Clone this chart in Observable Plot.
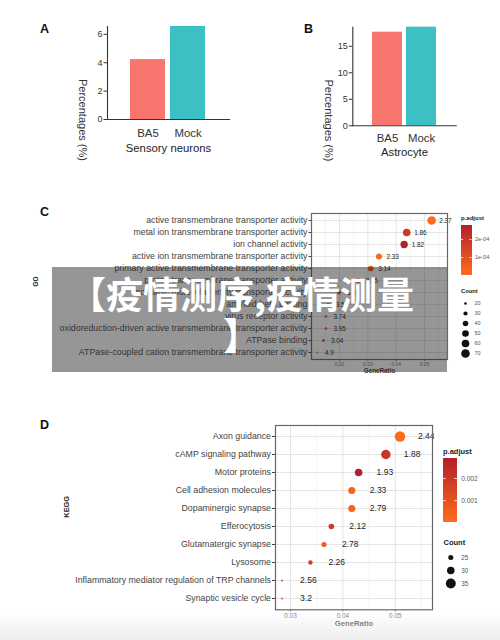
<!DOCTYPE html>
<html>
<head>
<meta charset="utf-8">
<script src="https://cdn.jsdelivr.net/npm/d3@7"></script>
<script src="https://cdn.jsdelivr.net/npm/@observablehq/plot@0.6"></script>
<style>
  body { margin: 0; background: #fff; }
  #root { position: relative; width: 500px; height: 640px; overflow: hidden; background: #fff;
          font-family: "Liberation Sans", Arial, Helvetica, sans-serif; }
  .t { position: absolute; white-space: nowrap; color: #222; }
</style>
</head>
<body>
<div id="root"></div>
<script>
// ---------- data ----------
const groups = ["BA5", "Mock"];
const barColors = ["#F8766D", "#3CC0C4"];
const sensoryPct = [4.22, 6.55];
const astroPct = [17.66, 18.6];
const sensoryTicks = [0, 2, 4, 6];
const astroTicks = [0, 5, 10, 15];

const goTerms = [
  "active transmembrane transporter activity",
  "metal ion transmembrane transporter activity",
  "ion channel activity",
  "active ion transmembrane transporter activity",
  "primary active transmembrane transporter activity",
  "proton transmembrane transporter activity",
  "inorganic molecular entity transporter activity",
  "amyloid-beta binding",
  "virus receptor activity",
  "oxidoreduction-driven active transmembrane transporter activity",
  "ATPase binding",
  "ATPase-coupled cation transmembrane transporter activity"
];
const goRatio = [0.0525, 0.0437, 0.0428, 0.0339, 0.0310, 0.0265, 0.0198, 0.0160, 0.0152, 0.0152, 0.0143, 0.0122];
const goCount = [70, 59, 57, 45, 42, 35, 27, 21, 20, 20, 19, 16];
const goPadj = [0.000005, 0.00019, 0.000275, 0.000015, 0.00007, 0.00009, 0.00016, 0.00009, 0.00011, 0.00011, 0.00025, 0.00003];
const goLabels = ["2.37", "1.86", "1.82", "2.33", "3.14", "3.75", "3.61", "3.5", "3.74", "3.95", "3.04", "4.9"];
const goMajorTicks = [0.02, 0.03, 0.04, 0.05];
const goMinorTicks = [0.015, 0.025, 0.035, 0.045, 0.055];
const goCountLegend = [20, 30, 40, 50, 60, 70];
const goPadjTicks = [0.0001, 0.0002];
const goPadjRange = [0, 0.000278];

const keggTerms = [
  "Axon guidance",
  "cAMP signaling pathway",
  "Motor proteins",
  "Cell adhesion molecules",
  "Dopaminergic synapse",
  "Efferocytosis",
  "Glutamatergic synapse",
  "Lysosome",
  "Inflammatory mediator regulation of TRP channels",
  "Synaptic vesicle cycle"
];
const keggRatio = [0.0509, 0.0482, 0.0430, 0.0417, 0.0417, 0.0378, 0.0364, 0.0338, 0.0284, 0.0284];
const keggCount = [36, 34, 30, 29, 29, 26, 25, 24, 20, 20];
const keggPadj = [0.00002, 0.0021, 0.0029, 0.0003, 0.0003, 0.0019, 0.0006, 0.0017, 0.0009, 0.0004];
const keggLabels = ["2.44", "1.88", "1.93", "2.33", "2.79", "2.12", "2.78", "2.26", "2.56", "3.2"];
const keggMajorTicks = [0.03, 0.04, 0.05];
const keggMinorTicks = [0.035, 0.045, 0.055];
const keggCountLegend = [25, 30, 35];
const keggPadjTicks = [0.001, 0.002];
const keggPadjRange = [0, 0.0029];

const padjColors = ["#FF6B1C", "#B2202A"];

// ---------- helpers ----------
const FONT = "'Liberation Sans', Arial, Helvetica, sans-serif";
const root = document.getElementById("root");
function place(el, left, top) {
  el.style.position = "absolute";
  el.style.left = left + "px";
  el.style.top = top + "px";
  el.style.background = "transparent";
  el.style.maxWidth = "none";
  el.style.overflow = "visible";
  root.appendChild(el);
}
function label(text, left, top, css) {
  const d = document.createElement("div");
  d.className = "t";
  d.textContent = text;
  d.style.left = left + "px";
  d.style.top = top + "px";
  Object.assign(d.style, css || {});
  root.appendChild(d);
  return d;
}
const sty = {fontFamily: FONT, background: "transparent", overflow: "visible"};

function barPanel(o) {
  const data = groups.map((g, i) => ({group: g, value: o.values[i]}));
  return Plot.plot({
    width: o.width, height: o.height,
    marginLeft: o.mL, marginRight: o.mR, marginTop: o.mT, marginBottom: o.mB,
    style: sty,
    x: {domain: groups, paddingInner: 0.12, paddingOuter: 0.55, label: null},
    y: {domain: [0, o.yMax], label: null},
    color: {domain: groups, range: barColors},
    marks: [
      Plot.barY(data, {x: "group", y: "value", fill: "group"}),
      Plot.frame({anchor: "left", stroke: "#333", strokeWidth: 1.1}),
      Plot.frame({anchor: "bottom", stroke: "#333", strokeWidth: 1.1}),
      Plot.axisY({ticks: o.yTicks, tickFormat: d => String(d), tickSize: 3.5, tickPadding: 1.5, fontSize: 9, color: "#333", label: null}),
      Plot.axisX({tickSize: 0, tickPadding: o.xPad, fontSize: 11.4, color: "#333", label: null}),
      Plot.text([o.xTitle], {text: d => d, frameAnchor: "bottom", dy: o.titleDy, fontSize: 11.3, fill: "#222"}),
      Plot.text(["Percentages (%)"], {text: d => d, frameAnchor: "left", rotate: 90, dx: o.ytDx, dy: o.ytDy, fontSize: 11, fill: "#333"})
    ]
  });
}

function dotPanel(o) {
  const data = o.terms.map((t, i) => ({term: t, ratio: o.ratio[i], count: o.count[i], padj: o.padj[i], label: o.labels[i]}));
  return Plot.plot({
    width: 500, height: o.height,
    marginLeft: o.mL, marginRight: o.mR, marginTop: o.mT, marginBottom: o.mB,
    style: sty,
    x: {domain: o.xDomain, label: null},
    y: {type: "point", domain: o.terms, padding: o.yPad, label: null},
    r: {domain: o.rDomain, range: o.rRange},
    color: {type: "linear", domain: o.cDomain, range: padjColors, interpolate: "rgb"},
    marks: [
      Plot.ruleX(o.minor, {x: d => d, stroke: "#f1f1f1", strokeWidth: 0.8}),
      Plot.ruleX(o.major, {x: d => d, stroke: "#e2e2e2", strokeWidth: 0.9}),
      Plot.ruleY(o.terms, {y: d => d, stroke: "#e2e2e2", strokeWidth: 0.9}),
      Plot.dot(data, {x: "ratio", y: "term", r: "count", fill: "padj"}),
      Plot.text(data, {x: "ratio", y: "term", text: "label", dx: o.labelDx, textAnchor: "start", fontSize: o.labelFont, fill: "#222"}),
      Plot.frame({stroke: "#666", strokeWidth: 1.2}),
      Plot.axisY({tickSize: o.yTick, tickPadding: 1.5, fontSize: 8.8, color: "#444", label: null}),
      Plot.axisX({ticks: o.major, tickFormat: d3.format(".2f"), tickSize: 2, tickPadding: 1.5, fontSize: o.xFont, color: "#777", label: null}),
      Plot.text(["GeneRatio"], {text: d => d, frameAnchor: "bottom", dy: o.xtDy, fontSize: o.xtFont, fontWeight: "bold", fill: "#333"}),
      Plot.text([o.yTitle], {text: d => d, frameAnchor: "left", rotate: -90, dx: o.ytDx, fontSize: o.ytFont, fontWeight: "bold", fill: "#222"})
    ]
  });
}

function sciFmt(v) {
  const [m, e] = v.toExponential(0).split("e");
  const ei = +e;
  return m + "e" + (ei < 0 ? "-" : "+") + String(Math.abs(ei)).padStart(2, "0");
}

function colorBar(o) {
  const n = 64;
  const [a, b] = o.cDomain;
  const slices = d3.range(n).map(i => ({lo: a + (b - a) * i / n, hi: Math.min(b, a + (b - a) * (i + 1.5) / n), mid: a + (b - a) * (i + 0.5) / n}));
  return Plot.plot({
    width: o.barW + 40, height: o.barH,
    marginLeft: 0, marginRight: 40, marginTop: 0, marginBottom: 0,
    style: sty,
    x: {domain: [0, 1], axis: null},
    y: {domain: o.cDomain, axis: null},
    color: {type: "linear", domain: o.cDomain, range: padjColors, interpolate: "rgb"},
    marks: [
      Plot.rect(slices, {x1: 0, x2: 1, y1: "lo", y2: "hi", fill: "mid", shapeRendering: "crispEdges"}),
      Plot.ruleY(o.ticks, {y: d => d, x1: 0, x2: 0.2, stroke: "white", strokeWidth: 0.8}),
      Plot.ruleY(o.ticks, {y: d => d, x1: 0.8, x2: 1, stroke: "white", strokeWidth: 0.8}),
      Plot.axisY({anchor: "right", ticks: o.ticks, tickFormat: o.fmt, tickSize: 0, tickPadding: o.pad, fontSize: o.font, color: "#555", label: null})
    ]
  });
}

function sizeLegend(o) {
  return Plot.plot({
    width: 40, height: o.values.length * o.step,
    marginLeft: 0, marginRight: 0, marginTop: 0, marginBottom: 0,
    style: sty,
    x: {domain: [0, 1], axis: null},
    y: {type: "point", domain: o.values, padding: 0.5, axis: null},
    r: {domain: o.rDomain, range: o.rRange},
    marks: [
      Plot.dot(o.values, {y: d => d, r: d => d, frameAnchor: "left", dx: o.dotDx, fill: "#111"}),
      Plot.text(o.values, {y: d => d, text: d => String(d), frameAnchor: "left", dx: o.textDx, textAnchor: "start", fontSize: o.font, fill: "#555"})
    ]
  });
}

// ---------- panels A & B ----------
place(barPanel({values: sensoryPct, yMax: 6.55, yTicks: sensoryTicks, xTitle: "Sensory neurons",
  width: 250, height: 170, mL: 107, mR: 21, mT: 26, mB: 51, xPad: 9, titleDy: 32, ytDx: -25, ytDy: 6}), 0, 0);
place(barPanel({values: astroPct, yMax: 18.6, yTicks: astroTicks, xTitle: "Astrocyte",
  width: 250, height: 170, mL: 102.3, mR: 44.3, mT: 26.7, mB: 44.7, xPad: 8, titleDy: 29.7, ytDx: -24.6, ytDy: 3}), 250, 0);

// ---------- panel C ----------
place(dotPanel({terms: goTerms, ratio: goRatio, count: goCount, padj: goPadj, labels: goLabels,
  height: 180, mL: 311, mR: 53, mT: 13, mB: 21, xDomain: [0.0101, 0.0581], yPad: 0.54,
  rDomain: [16, 70], rRange: [1, 4.3], cDomain: goPadjRange, major: goMajorTicks, minor: goMinorTicks,
  labelDx: 7.5, labelFont: 6.4, xFont: 4.9, xtDy: 13, xtFont: 6.3, yTitle: "GO", ytDx: -276, ytFont: 6.4, yTick: 2.5}), 0, 200);
label("p.adjust", 461, 214.5, {fontSize: "6px", fontWeight: "bold", lineHeight: "7px"});
place(colorBar({cDomain: goPadjRange, ticks: goPadjTicks, fmt: sciFmt, barW: 10.5, barH: 50, pad: 3, font: 5.6}), 461, 225);
label("Count", 461, 287.5, {fontSize: "5.8px", fontWeight: "bold", lineHeight: "7px"});
place(sizeLegend({values: goCountLegend, rDomain: [16, 70], rRange: [1, 4.3], step: 10.3, dotDx: 5, textDx: 14, font: 5.4}), 460, 296.5);

// ---------- panel D ----------
place(dotPanel({terms: keggTerms, ratio: keggRatio, count: keggCount, padj: keggPadj, labels: keggLabels,
  height: 230, mL: 275, mR: 68, mT: 15, mB: 30.7, xDomain: [0.02714, 0.0571], yPad: 0.56,
  rDomain: [20, 36], rRange: [1.1, 5.2], cDomain: keggPadjRange, major: keggMajorTicks, minor: keggMinorTicks,
  labelDx: 18, labelFont: 8.5, xFont: 6.4, xtDy: 16.4, xtFont: 7.7, yTitle: "KEGG", ytDx: -209, ytFont: 7.4, yTick: 3}), 0, 410);
label("p.adjust", 443, 447.5, {fontSize: "7.5px", fontWeight: "bold", lineHeight: "8px"});
place(colorBar({cDomain: keggPadjRange, ticks: keggPadjTicks, fmt: d3.format(".3f"), barW: 14, barH: 64.4, pad: 3.7, font: 6.6}), 443.3, 458.3);
label("Count", 443.5, 538.5, {fontSize: "7.5px", fontWeight: "bold", lineHeight: "8px"});
place(sizeLegend({values: keggCountLegend, rDomain: [20, 36], rRange: [1.1, 5.2], step: 13, dotDx: 5.3, textDx: 15.7, font: 6.3}), 445, 550.2);

// ---------- panel letters ----------
label("A", 40, 22, {fontSize: "12.5px", fontWeight: "bold", color: "#111"});
label("B", 304, 22, {fontSize: "12.5px", fontWeight: "bold", color: "#111"});
label("C", 40, 205, {fontSize: "12.5px", fontWeight: "bold", color: "#111"});
label("D", 40, 418, {fontSize: "12.5px", fontWeight: "bold", color: "#111"});

// ---------- overlay banner & bottom shade ----------
const shade = document.createElement("div");
Object.assign(shade.style, {position: "absolute", left: "0px", top: "612px", width: "500px", height: "28px",
  background: "linear-gradient(to bottom, rgba(238,238,238,0), #ededed)"});
root.appendChild(shade);

const banner = document.createElement("div");
Object.assign(banner.style, {position: "absolute", left: "52px", top: "267px", width: "395px", height: "105px",
  background: "rgba(35,35,35,0.48)"});
root.appendChild(banner);
const bannerText = document.createElement("div");
Object.assign(bannerText.style, {position: "absolute", left: "44px", top: "273px", width: "395px", textAlign: "center",
  color: "#fff", fontFamily: "'Noto Sans CJK SC', sans-serif", fontWeight: "700", fontSize: "37px", lineHeight: "41px"});
bannerText.innerHTML = "【疫情测序,疫情测量<br>】";
root.appendChild(bannerText);
</script>
</body>
</html>
